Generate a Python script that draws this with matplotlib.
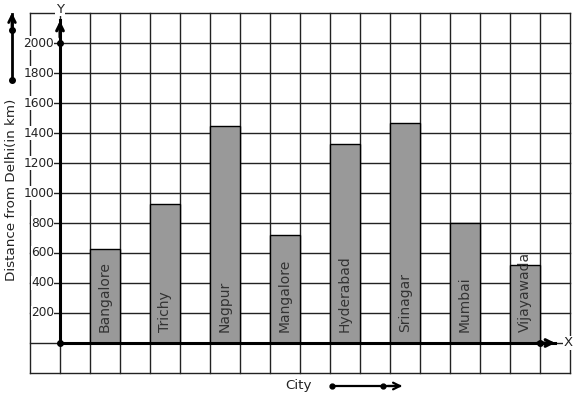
import matplotlib
matplotlib.use("Agg")
import matplotlib.pyplot as plt

cities = ["Bangalore", "Trichy", "Nagpur", "Mangalore", "Hyderabad", "Srinagar", "Mumbai", "Vijayawada"]
distances = [625, 925, 1450, 720, 1325, 1470, 800, 520]
ytick_values = [200, 400, 600, 800, 1000, 1200, 1400, 1600, 1800, 2000]

W, H = 577, 399
fig = plt.figure(figsize=(W / 100, H / 100), dpi=100)
ax = fig.add_axes([0, 0, 1, 1])

# pixel <-> data helpers (1 grid cell = 30 px = 1 x-unit = 200 km)
def px(xp):
    return (xp - 60) / 30.0

def py(yp):
    return (343 - yp) / 0.15

ax.set_xlim(px(0), px(W))
ax.set_ylim(py(H), py(0))
ax.axis("off")

gc = "#222222"
# grid
for gx in range(-1, 18):
    ax.plot([gx, gx], [-200, 2200], color=gc, lw=1, zorder=1)
for gy in range(-200, 2201, 200):
    ax.plot([-1, 17], [gy, gy], color=gc, lw=1, zorder=1)

# bars
xs = [1.5 + 2 * i for i in range(len(cities))]
ax.bar(xs, distances, width=1.0, color="#999999", edgecolor="black", lw=1, zorder=2)
for x, name in zip(xs, cities):
    ax.text(x, 70, name, rotation=90, ha="center", va="bottom",
            fontsize=10, color="#333333", zorder=3)

# axes arrows
ax.plot([0, 0], [0, py(20)], color="black", lw=2.2, zorder=4)
ax.annotate("", xy=(0, py(18)), xytext=(0, py(40)),
            arrowprops=dict(arrowstyle="->", lw=2.2, color="black",
                            mutation_scale=12), zorder=4)
ax.plot([0, px(555)], [0, 0], color="black", lw=2.2, zorder=4)
ax.annotate("", xy=(px(558), 0), xytext=(px(535), 0),
            arrowprops=dict(arrowstyle="->", lw=2.2, color="black",
                            mutation_scale=12), zorder=4)
ax.plot([0, 0, px(540)], [0, 2000, 0], "o", color="black", ms=4, zorder=5)

ax.text(0, py(9), "Y", ha="center", va="center", fontsize=9.5, color="#222222",
        bbox=dict(facecolor="white", edgecolor="none", pad=0.5), zorder=5)
ax.text(px(568), 0, "X", ha="center", va="center", fontsize=9.5, color="#222222",
        bbox=dict(facecolor="white", edgecolor="none", pad=0.5), zorder=5)

# y tick labels
for v in ytick_values:
    ax.text(px(54), v, str(v), ha="right", va="center", fontsize=8.7,
            color="#222222",
            bbox=dict(facecolor="white", edgecolor="none", pad=0.3), zorder=3)

ax.text(px(12), py(190), "Distance from Delhi(in km)", rotation=90,
        ha="center", va="center", fontsize=9.7, color="#222222",
        bbox=dict(facecolor="white", edgecolor="none", pad=0.5), zorder=3)
ax.text(px(298), py(385), "City", ha="center", va="center", fontsize=9.7,
        color="#222222", zorder=3)

# decorative arrows
ax.plot([px(12), px(12)], [py(80), py(14)], color="black", lw=2, zorder=5)
ax.annotate("", xy=(px(12), py(10)), xytext=(px(12), py(30)),
            arrowprops=dict(arrowstyle="->", lw=2, color="black",
                            mutation_scale=12), zorder=5)
ax.plot([px(12), px(12)], [py(80), py(30)], "o", color="black", ms=4, zorder=6)

ax.plot([px(332), px(400)], [py(386), py(386)], color="black", lw=1.6, zorder=5)
ax.annotate("", xy=(px(405), py(386)), xytext=(px(385), py(386)),
            arrowprops=dict(arrowstyle="->", lw=1.6, color="black",
                            mutation_scale=12), zorder=5)
ax.plot([px(332), px(383)], [py(386), py(386)], "o", color="black", ms=3.5, zorder=6)

fig.savefig("out.png", dpi=100)
